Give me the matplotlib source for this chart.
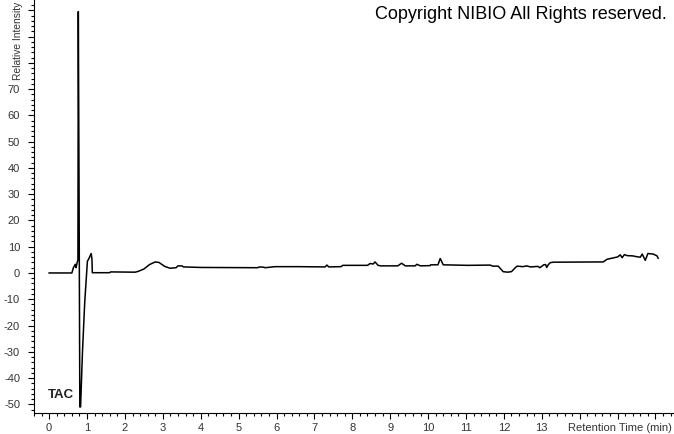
import numpy as np
import matplotlib
matplotlib.use('Agg')
import matplotlib.pyplot as plt
from matplotlib.ticker import MultipleLocator

plt.rcParams['font.family'] = ['Liberation Sans', 'DejaVu Sans']

# retention time (min) and relative intensity
rt = [0.0, 0.60, 0.64, 0.69, 0.71, 0.74, 0.76, 0.77, 0.79, 0.81, 0.83, 0.88, 0.94,
      1.01, 1.04, 1.11, 1.13, 1.14, 1.60, 1.62, 2.27, 2.35, 2.50, 2.65, 2.80, 2.90,
      3.05, 3.19, 3.35, 3.40, 3.50, 3.55, 4.00, 5.50, 5.55, 5.65, 5.70, 5.96, 6.60,
      7.28, 7.33, 7.38, 7.70, 7.75, 8.40, 8.47, 8.55, 8.60, 8.68, 8.75, 9.20, 9.30,
      9.40, 9.66, 9.70, 9.80, 10.05, 10.07, 10.26, 10.32, 10.40, 11.05, 11.64, 11.70,
      11.85, 11.98, 12.10, 12.20, 12.30, 12.35, 12.50, 12.60, 12.70, 12.90, 12.95,
      13.05, 13.10, 13.13, 13.17, 13.22, 13.30, 14.62, 14.72, 15.00, 15.07, 15.12,
      15.18, 15.25, 15.40, 15.50, 15.60, 15.65, 15.73, 15.80, 15.94, 16.04, 16.07]
intensity = [0.0, 0.0, 2.0, 3.3, 2.0, 4.0, 5.0, 99.5, 30.0, -51.0, -51.0, -30.0, -11.0,
             4.5, 5.2, 7.4, 5.2, 0.1, 0.1, 0.4, 0.3, 0.6, 1.5, 3.2, 4.2, 4.0,
             2.5, 1.8, 2.0, 2.7, 2.7, 2.3, 2.1, 2.0, 2.3, 2.2, 2.0, 2.4, 2.4,
             2.3, 3.0, 2.3, 2.4, 2.9, 2.9, 3.6, 3.4, 4.2, 2.9, 2.7, 2.7, 3.7,
             2.7, 2.7, 3.3, 2.7, 2.8, 3.1, 3.1, 5.5, 3.1, 2.9, 3.0, 2.6,
             2.6, 0.5, 0.3, 0.5, 2.0, 2.6, 2.4, 2.7, 2.3, 2.5, 2.0,
             3.1, 3.2, 2.1, 3.1, 3.9, 4.1, 4.2, 5.2, 6.1, 6.9, 5.8,
             7.0, 6.6, 6.5, 6.2, 6.0, 7.2, 4.8, 7.4, 7.2, 6.5, 5.6]

x_labels = list(range(0, 14))
y_labels = list(range(-50, 80, 10))

fig = plt.figure(figsize=(6.74, 4.34), dpi=100)
ax = fig.add_axes([0.0504, 0.0484, 0.948, 0.9516])

ax.plot(rt, intensity, color='black', lw=1.1)

ax.set_xlim(-0.40, 16.46)
ax.set_ylim(-53.3, 103.9)

ax.spines['top'].set_visible(False)
ax.spines['right'].set_visible(False)

ax.xaxis.set_minor_locator(MultipleLocator(0.2))
ax.yaxis.set_minor_locator(MultipleLocator(2))

xt = np.arange(0, 17)
ax.set_xticks(xt)
ax.set_xticklabels([str(v) if v in x_labels else '' for v in xt])
yt = np.arange(-50, 110, 10)
ax.set_yticks(yt)
ax.set_yticklabels([str(v) if v in y_labels else '' for v in yt])

ax.tick_params(which='major', length=4, width=0.8, labelsize=8, labelcolor='#333333')
ax.tick_params(which='minor', length=2, width=0.8)
ax.tick_params(axis='y', pad=6)
ax.tick_params(axis='x', pad=3)

ax.text(-0.03, -47.6, 'TAC', fontsize=9.5, fontweight='bold', color='#222222',
        ha='left', va='baseline')

fig.text(672, 434 - 428, 'Retention Time (min)', transform=None, fontsize=8,
         color='#333333', ha='right', va='center')
fig.text(18, 434 - 80, 'Relative Intensity', transform=None, fontsize=7.4,
         color='#333333', rotation=90, ha='center', va='bottom')
fig.text(667, 434 - 19, 'Copyright NIBIO All Rights reserved.', transform=None,
         fontsize=13, color='black', ha='right', va='baseline')

plt.savefig('out.png', dpi=100)
